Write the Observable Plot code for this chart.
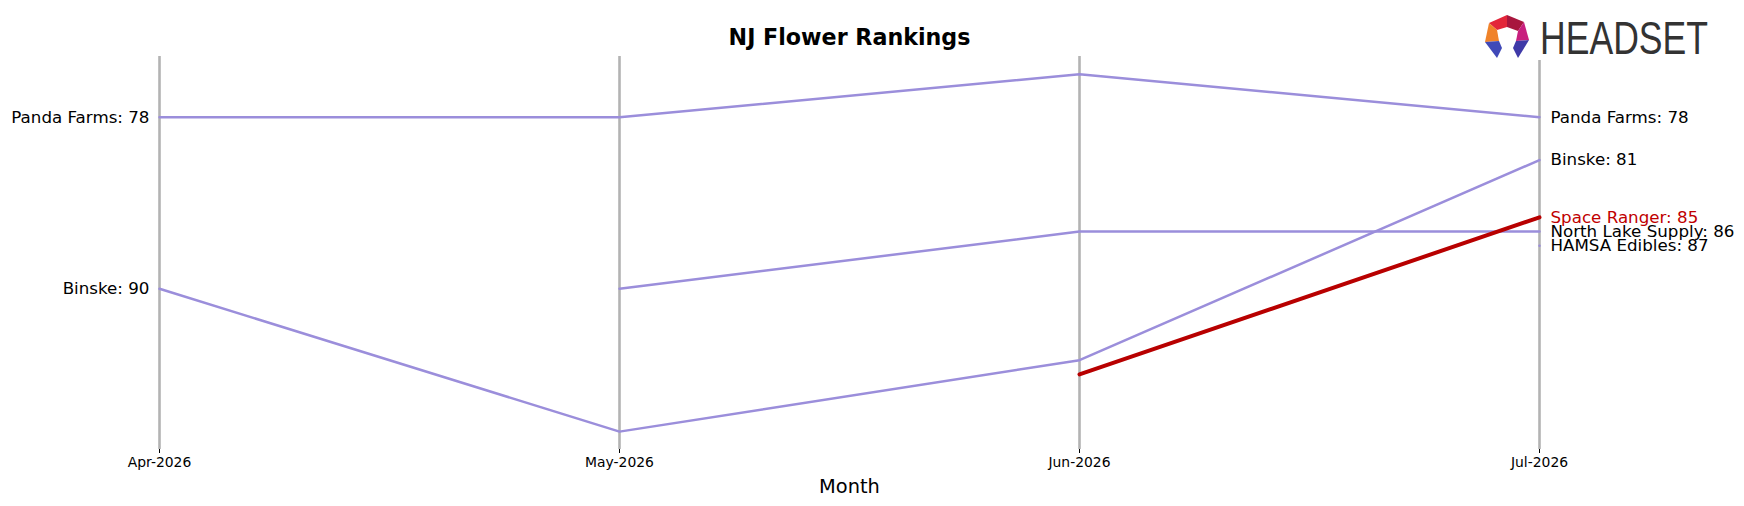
<!DOCTYPE html>
<html>
<head>
<meta charset="utf-8">
<script src="https://cdn.jsdelivr.net/npm/d3@7"></script>
<script src="https://cdn.jsdelivr.net/npm/@observablehq/plot@0.6"></script>
<style>
  html, body { margin: 0; padding: 0; background: #fff; }
  #wrap { position: relative; width: 1744px; height: 506px; }
  #logo { position: absolute; left: 1480px; top: 6px; overflow: visible; }
  svg { font-family: "DejaVu Sans", sans-serif; }
</style>
</head>
<body>
<div id="wrap"></div>
<script>
// ---- data ----
const months = ["Apr-2026", "May-2026", "Jun-2026", "Jul-2026"];
const brands = ["Panda Farms", "Binske", "North Lake Supply", "HAMSA Edibles", "Space Ranger"];
const pandaFarms = [78, 78, 75, 78];
const binske = [90, 100, 95, 81];
const northLakeSupply = [null, 90, 86, 86];
const hamsaEdibles = [null, null, null, 87];
const spaceRanger = [null, null, 96, 85];
const highlight = "Space Ranger";
const title = "NJ Flower Rankings";
const xLabel = "Month";

const series = [pandaFarms, binske, northLakeSupply, hamsaEdibles, spaceRanger];
const rows = [];
brands.forEach((b, i) => {
  series[i].forEach((v, j) => {
    if (v != null) rows.push({brand: b, month: months[j], rank: v});
  });
});
const purple = "#9b8edb";
const red = "#c00000";
const firstRows = rows.filter(d => d.month === months[0]);
const lastRows = rows.filter(d => d.month === months[months.length - 1]);

const plot = Plot.plot({
  width: 1744,
  height: 506,
  marginLeft: 158,
  marginRight: 204,
  marginTop: 56,
  marginBottom: 57,
  style: {fontFamily: "DejaVu Sans, sans-serif", background: "#fff", color: "#000"},
  x: {type: "point", domain: months, padding: 0},
  y: {domain: [73.75, 101.25], reverse: true, axis: null},
  marks: [
    Plot.ruleX(months, {stroke: "#b3b3b3", strokeWidth: 2.6}),
    Plot.axisX({tickSize: 4, tickPadding: 4, fontSize: 13.9, label: null}),
    Plot.line(rows.filter(d => d.brand !== highlight), {x: "month", y: "rank", z: "brand", stroke: purple, strokeWidth: 2.5, curve: "linear"}),
    Plot.line(rows.filter(d => d.brand === highlight), {x: "month", y: "rank", z: "brand", stroke: "#b80000", strokeWidth: 4, curve: "linear"}),
    Plot.text(firstRows, {x: "month", y: "rank", text: d => `${d.brand}: ${d.rank}`, textAnchor: "end", dx: -10, fontSize: 16.7, fill: d => d.brand === highlight ? red : "#000"}),
    Plot.text(lastRows, {x: "month", y: "rank", text: d => `${d.brand}: ${d.rank}`, textAnchor: "start", dx: 11, fontSize: 16.7, fill: d => d.brand === highlight ? red : "#000"}),
    Plot.text([title], {frameAnchor: "top", lineAnchor: "middle", dy: -19, fontSize: 22.2, fontWeight: "bold", fill: "#000"}),
    Plot.text([xLabel], {frameAnchor: "bottom", lineAnchor: "middle", dy: 37, fontSize: 19.4, fill: "#000"})
  ]
});
document.getElementById("wrap").appendChild(plot);

// ---- logo ----
const ns = "http://www.w3.org/2000/svg";
const logo = document.createElementNS(ns, "svg");
logo.setAttribute("id", "logo");
logo.setAttribute("width", "240");
logo.setAttribute("height", "66");
logo.innerHTML = `
  <rect x="0" y="0" width="240" height="54" fill="#fff"/>
  <g transform="translate(5,9)">
    <polygon points="4,8 22,0 22,12 12,15" fill="#e3263a"/>
    <polygon points="22,0 39,7 33,16 22,12" fill="#a8163e"/>
    <polygon points="4,8 12,15 14,26 0,27" fill="#f0832a"/>
    <polygon points="39,7 44,25 31,26 33,16" fill="#c81f7e"/>
    <polygon points="0,27 14,26 17,33 12,43" fill="#4049b8"/>
    <polygon points="44,25 31,26 28,33 33,43" fill="#3f3aa8"/>
  </g>
  <text x="60" y="48" fill="#333" font-family="Liberation Sans Narrow, Liberation Sans, sans-serif" font-size="47" textLength="168" lengthAdjust="spacingAndGlyphs">HEADSET</text>
`;
document.getElementById("wrap").appendChild(logo);
</script>
</body>
</html>
